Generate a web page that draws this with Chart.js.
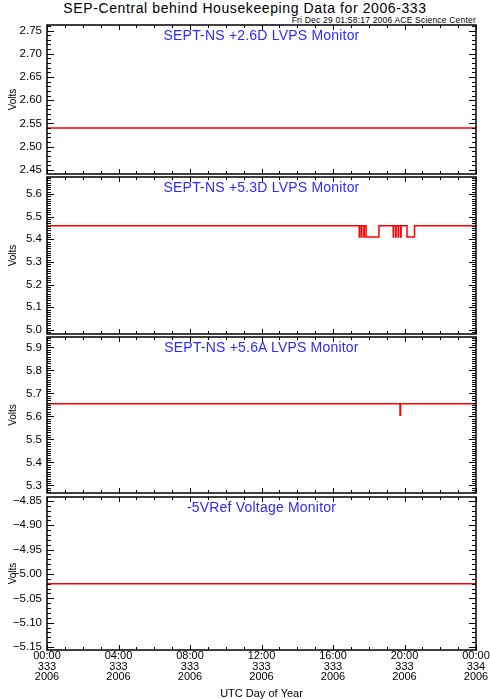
<!DOCTYPE html>
<html>
<head>
<meta charset="utf-8">
<script src="https://cdn.jsdelivr.net/npm/chart.js@4.4.0/dist/chart.umd.min.js"></script>
<style>
  body { margin: 0; background: #fff; }
  #page { position: relative; width: 490px; height: 699px; background: #fff; overflow: hidden;
          font-family: "Liberation Sans", Arial, sans-serif; }
  #page canvas { position: absolute; left: 0; }
  .txt { position: absolute; white-space: nowrap; }
  #mainTitle { left: 0; width: 490px; top: 0; text-align: center; font-size: 14px; line-height: 16px;
               letter-spacing: 0.6px; color: #000; }
  #stamp { right: 14px; top: 15px; font-size: 8.5px; line-height: 10px; letter-spacing: 0.2px; color: #000; }
  .ptitle { left: 47px; width: 429px; text-align: center; font-size: 14px; line-height: 16px;
            letter-spacing: 0.2px; color: #2b2bff; }
</style>
</head>
<body>
<div id="page">
  <div class="txt" id="mainTitle">SEP-Central behind Housekeeping Data for 2006-333</div>
  <div class="txt" id="stamp">Fri Dec 29 01:58:17 2006 ACE Science Center</div>
  <canvas id="c1"></canvas>
  <canvas id="c2"></canvas>
  <canvas id="c3"></canvas>
  <canvas id="c4"></canvas>
</div>
<script>
// x axis: hours of day 333 (2006)
const xTickHours = [0, 4, 8, 12, 16, 20, 24];
const xTickLabels = [
  ['00:00', '333', '2006'],
  ['04:00', '333', '2006'],
  ['08:00', '333', '2006'],
  ['12:00', '333', '2006'],
  ['16:00', '333', '2006'],
  ['20:00', '333', '2006'],
  ['00:00', '334', '2006']
];

const panelTitles = [
  'SEPT-NS +2.6D LVPS Monitor',
  'SEPT-NS +5.3D LVPS Monitor',
  'SEPT-NS +5.6A LVPS Monitor',
  '-5VRef Voltage Monitor'
];

// +2.6D
const p1Hours = [0, 24];
const p1Volts = [2.54, 2.54];
const p1Ticks = [2.45, 2.50, 2.55, 2.60, 2.65, 2.70, 2.75];

// +5.3D (value held until next sample)
const p2Hours = [0, 17.47, 17.49, 17.59, 17.61, 17.73, 17.75, 17.85, 18.57,
                 19.37, 19.39, 19.51, 19.53, 19.65, 19.67, 19.79, 19.81, 20.14, 20.56, 24];
const p2Volts = [5.46, 5.41, 5.46, 5.41, 5.46, 5.41, 5.46, 5.41, 5.46,
                 5.41, 5.46, 5.41, 5.46, 5.41, 5.46, 5.41, 5.46, 5.41, 5.46, 5.46];
const p2Ticks = [5.0, 5.1, 5.2, 5.3, 5.4, 5.5, 5.6];

// +5.6A
const p3Hours = [0, 19.75, 19.78, 24];
const p3Volts = [5.655, 5.605, 5.655, 5.655];
const p3Ticks = [5.3, 5.4, 5.5, 5.6, 5.7, 5.8, 5.9];

// -5VRef
const p4Hours = [0, 24];
const p4Volts = [-5.02, -5.02];
const p4Ticks = [-5.15, -5.10, -5.05, -5.00, -4.95, -4.90, -4.85];

// IDL style frame with inward ticks on all four sides
const idlFrame = {
  id: 'idlFrame',
  afterDraw(chart, args, o) {
    const { ctx, chartArea: a, scales: { x, y } } = chart;
    ctx.save();
    ctx.strokeStyle = '#000';
    ctx.lineWidth = 1;
    ctx.beginPath();
    const n0 = Math.ceil(y.min / o.yMinor - 1e-6), n1 = Math.floor(y.max / o.yMinor + 1e-6);
    for (let n = n0; n <= n1; n++) {
      const v = n * o.yMinor;
      const r = v / o.yMajor;
      const len = Math.abs(r - Math.round(r)) < 1e-6 ? 7 : 4;
      const py = Math.round(y.getPixelForValue(v)) + 0.5;
      ctx.moveTo(a.left, py); ctx.lineTo(a.left + len, py);
      ctx.moveTo(a.right, py); ctx.lineTo(a.right - len, py);
    }
    for (let h = 0; h <= 24; h++) {
      const len = h % 4 === 0 ? 5 : 3;
      const px = Math.round(x.getPixelForValue(h)) + 0.5;
      ctx.moveTo(px, a.top); ctx.lineTo(px, a.top + len);
      ctx.moveTo(px, a.bottom); ctx.lineTo(px, a.bottom - len);
    }
    ctx.stroke();
    ctx.lineWidth = 1.5;
    ctx.strokeRect(a.left, a.top, a.right - a.left, a.bottom - a.top);
    ctx.restore();
  }
};

function makePanel(id, title, hours, volts, ticks, dec, yMin, yMax, top, bottom, minor, major, last) {
  const cv = document.getElementById(id);
  const padT = 3;
  const h = last ? 699 - (top - padT) : (bottom - top) + 6;
  cv.width = 490; cv.height = h;
  cv.style.top = (top - padT) + 'px';

  const t = document.createElement('div');
  t.className = 'txt ptitle';
  t.style.top = (top + 2) + 'px';
  t.textContent = title;
  document.getElementById('page').appendChild(t);

  new Chart(cv, {
    type: 'line',
    data: {
      datasets: [{
        data: hours.map((hr, i) => ({ x: hr, y: volts[i] })),
        borderColor: 'rgb(255, 0, 0)',
        borderWidth: 1.5,
        pointRadius: 0,
        stepped: true
      }]
    },
    options: {
      responsive: false,
      animation: false,
      devicePixelRatio: 1,
      layout: { padding: { top: padT, bottom: last ? 0 : 3, left: 0, right: 14 } },
      plugins: {
        legend: { display: false },
        tooltip: { enabled: false },
        idlFrame: { yMinor: minor, yMajor: major }
      },
      scales: {
        x: {
          type: 'linear',
          min: 0, max: 24,
          display: !!last,
          afterBuildTicks: s => { s.ticks = xTickHours.map(v => ({ value: v })); },
          afterFit: s => {
            if (last) s.height = 49;
            s.paddingLeft = 0; s.paddingRight = 0;
          },
          grid: { display: false, drawTicks: false },
          border: { display: false },
          ticks: {
            maxRotation: 0,
            autoSkip: false,
            padding: 1,
            color: '#000',
            font: { family: '"Liberation Sans", Arial, sans-serif', size: 11, lineHeight: 0.95 },
            callback: v => xTickLabels[xTickHours.indexOf(v)]
          },
          title: {
            display: true,
            text: 'UTC Day of Year',
            color: '#000',
            font: { family: '"Liberation Sans", Arial, sans-serif', size: 11 },
            padding: { top: 0, bottom: -2 }
          }
        },
        y: {
          type: 'linear',
          min: yMin, max: yMax,
          afterBuildTicks: s => { s.ticks = ticks.map(v => ({ value: v })); },
          afterFit: s => { s.width = 47; s.paddingTop = 0; s.paddingBottom = 0; },
          grid: { display: false, drawTicks: false },
          border: { display: false },
          ticks: {
            autoSkip: false,
            padding: 5,
            color: '#000',
            font: { family: '"Liberation Sans", Arial, sans-serif', size: 11.5 },
            callback: v => v.toFixed(dec).replace('-', '\u2212')
          },
          title: {
            display: true,
            text: 'Volts',
            color: '#000',
            font: { family: '"Liberation Sans", Arial, sans-serif', size: 10 },
            padding: { top: 7, bottom: 0 }
          }
        }
      }
    },
    plugins: [idlFrame]
  });
}

makePanel('c1', panelTitles[0], p1Hours, p1Volts, p1Ticks, 2, 2.441, 2.762, 25, 174, 0.01, 0.05, false);
makePanel('c2', panelTitles[1], p2Hours, p2Volts, p2Ticks, 1, 4.982, 5.675, 177, 334, 0.01, 0.1, false);
makePanel('c3', panelTitles[2], p3Hours, p3Volts, p3Ticks, 1, 5.267, 5.945, 337, 493, 0.01, 0.1, false);
makePanel('c4', panelTitles[3], p4Hours, p4Volts, p4Ticks, 2, -5.156, -4.842, 497, 650, 0.01, 0.05, true);
</script>
</body>
</html>
